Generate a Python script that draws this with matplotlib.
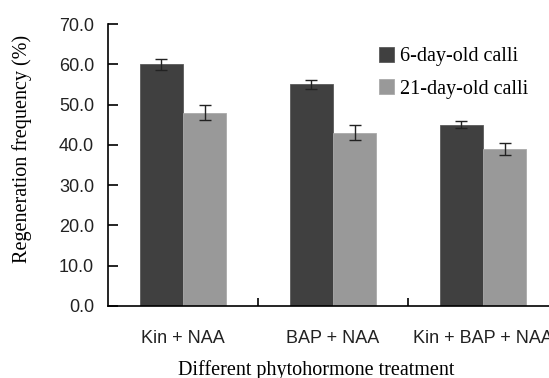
import matplotlib as mpl
mpl.use('Agg')
import matplotlib.pyplot as plt
import numpy as np

# data
treatments = ['Kin + NAA', 'BAP + NAA', 'Kin + BAP + NAA']
calli_6 = [60.0, 55.0, 45.0]
err_6 = [1.3, 1.2, 0.8]
calli_21 = [48.0, 43.0, 39.0]
err_21 = [1.9, 1.9, 1.5]
yticks = np.arange(0, 71, 10)

SERIF = 'Liberation Serif'
SANS = 'Liberation Sans'

fig = plt.figure(figsize=(5.49, 3.78), dpi=100)
ax = fig.add_axes([0.1967, 0.1905, 0.8197, 0.746])

x = np.arange(len(treatments))
w = 0.287
ekw = dict(ecolor='#222222', elinewidth=1.0, capsize=4.5, capthick=1.0)
ax.bar(x - w/2, calli_6, w, yerr=err_6, color='#404040', edgecolor='#5a5a5a',
       linewidth=0.6, error_kw=ekw, label='6-day-old calli')
ax.bar(x + w/2, calli_21, w, yerr=err_21, color='#999999', edgecolor='#aaaaaa',
       linewidth=0.6, error_kw=ekw, label='21-day-old calli')

ax.set_xlim(-0.5, 2.5)
ax.set_ylim(0, 70)
ax.set_yticks(yticks)
ax.set_yticklabels(['%.1f' % v for v in yticks], fontfamily=SANS, fontsize=13, color='#222222')
ax.tick_params(axis='y', direction='in', length=7, width=1.2, pad=10)

# category separators as major ticks, labels as minor ticks
ax.set_xticks([0.5, 1.5])
ax.set_xticklabels([])
ax.set_xticks(x, minor=True)
ax.set_xticklabels(treatments, minor=True, fontfamily=SANS, fontsize=13, color='#222222')
ax.tick_params(axis='x', which='major', direction='in', length=6, width=1.2)
ax.tick_params(axis='x', which='minor', length=0, pad=17)

for s in ['top', 'right']:
    ax.spines[s].set_visible(False)
for s in ['left', 'bottom']:
    ax.spines[s].set_linewidth(1.2)

fig.text(22/549, 1 - 149/378, 'Regeneration frequency (%)', fontfamily=SERIF,
         fontsize=14.5, rotation=90, ha='center', va='center')
fig.text(316/549, 1 - 370/378, 'Different phytohormone treatment', fontfamily=SERIF,
         fontsize=14.5, ha='center', va='center')

leg = ax.legend(loc='upper left', bbox_to_anchor=(0.58, 0.955), frameon=False,
                prop={'family': SERIF, 'size': 14.5}, handlelength=0.75, handleheight=0.75,
                handletextpad=0.3, labelspacing=0.66, borderpad=0)

plt.savefig('out.png', dpi=100)
plt.close(fig)
